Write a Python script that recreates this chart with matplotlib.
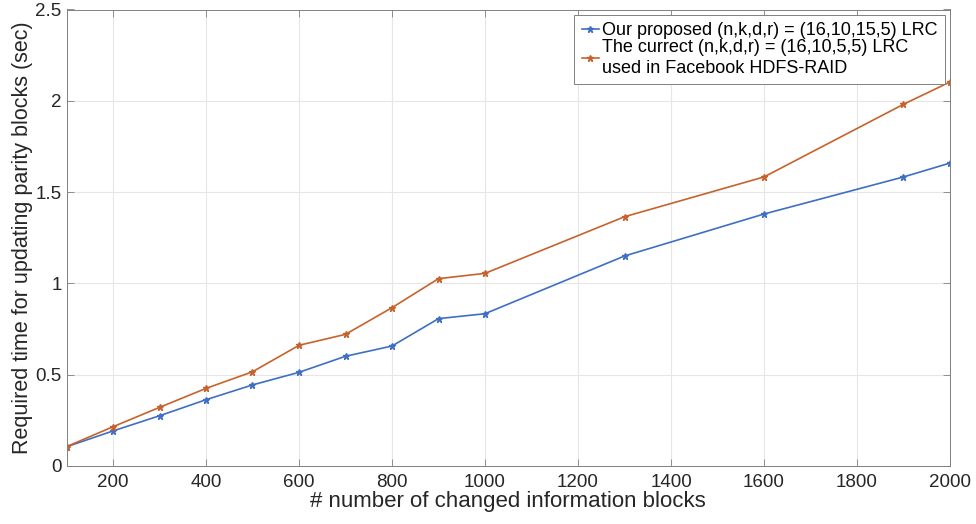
import matplotlib
matplotlib.use("Agg")
import matplotlib.pyplot as plt

x_blocks = [100, 200, 300, 400, 500, 600, 700, 800, 900, 1000, 1300, 1600, 1900, 2000]
proposed = [0.105, 0.192, 0.275, 0.363, 0.444, 0.513, 0.601, 0.657, 0.807, 0.834, 1.15, 1.38, 1.583, 1.659]
current = [0.106, 0.215, 0.321, 0.425, 0.516, 0.661, 0.721, 0.867, 1.026, 1.055, 1.365, 1.583, 1.981, 2.103]
xticks = [200, 400, 600, 800, 1000, 1200, 1400, 1600, 1800, 2000]
yticks = [0, 0.5, 1, 1.5, 2, 2.5]
ytick_labels = ["0", "0.5", "1", "1.5", "2", "2.5"]
labels = ["Our proposed (n,k,d,r) = (16,10,15,5) LRC",
          "The currect (n,k,d,r) = (16,10,5,5) LRC\nused in Facebook HDFS-RAID"]

plt.rcParams['font.family'] = ['Liberation Sans', 'DejaVu Sans']

W, H = 976, 524
fig = plt.figure(figsize=(W / 100, H / 100), dpi=100)
left, right, top, bottom = 66.5, 950, 9.5, 466
ax = fig.add_axes([left / W, 1 - bottom / H, (right - left) / W, (bottom - top) / H])

blue = '#3e6fc4'
orange = '#c8622c'
ax.plot(x_blocks, proposed, color=blue, lw=1.2, marker='*', ms=5, label=labels[0])
ax.plot(x_blocks, current, color=orange, lw=1.2, marker='*', ms=5, label=labels[1])

ax.set_xlim(100, 2000)
ax.set_ylim(0, 2.5)
ax.set_xticks(xticks)
ax.set_yticks(yticks)
ax.set_yticklabels(ytick_labels)
ax.grid(True, color='#e6e6e6', lw=0.8)
ax.set_axisbelow(True)
ax.tick_params(direction='in', labelsize=13.5, colors='#262626', length=5, width=0.6,
               top=True, right=True)
ax.tick_params(axis='x', pad=6)
ax.tick_params(axis='y', pad=3.5)
for s in ax.spines.values():
    s.set_color('#808080')
    s.set_linewidth(0.7)
ax.tick_params(color='#808080')
ax.set_xlabel('# number of changed information blocks', fontsize=16, color='#262626', labelpad=0)
ax.set_ylabel('Required time for updating parity blocks (sec)', fontsize=15.5, color='#262626', labelpad=2)

leg = ax.legend(loc='upper right', bbox_to_anchor=(945 / W, 1 - 15 / H),
                bbox_transform=fig.transFigure, fontsize=13, frameon=True, fancybox=False,
                edgecolor='#808080', handlelength=0.95, handletextpad=0.2,
                borderaxespad=0, labelspacing=0.0, borderpad=0.4, framealpha=1)
leg.get_frame().set_linewidth(0.7)
for t in leg.get_texts():
    t.set_linespacing(1.3)

fig.savefig('out.png', dpi=100)
